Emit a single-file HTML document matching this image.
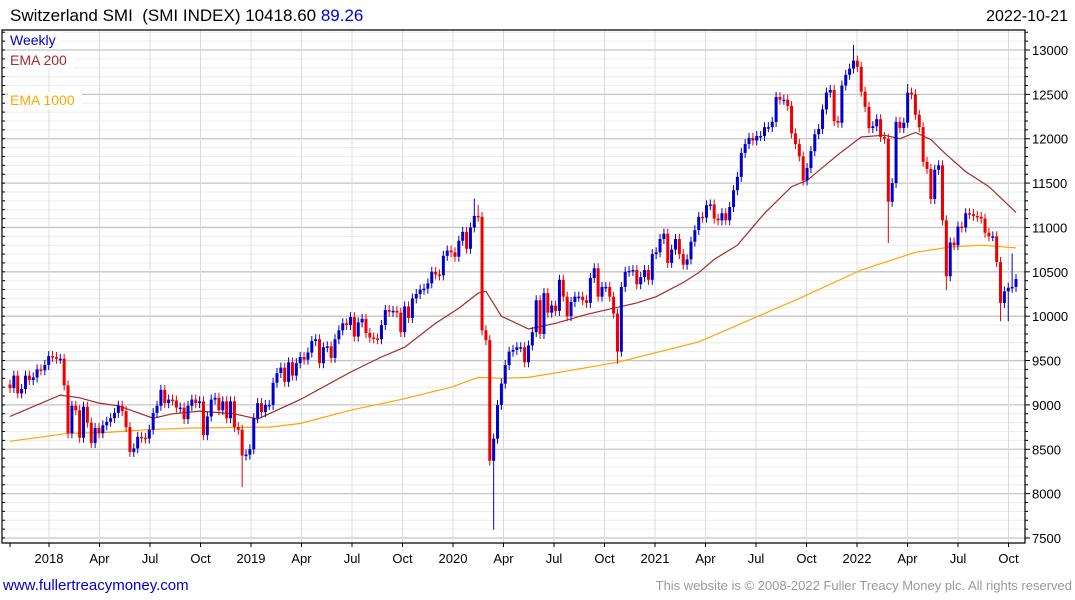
<!DOCTYPE html>
<html><head><meta charset="utf-8"><style>
body{margin:0;background:#fff;}
svg{display:block;font-family:"Liberation Sans",sans-serif;}
</style></head><body>
<svg id="c" width="1075" height="600">
<rect width="1075" height="600" fill="#fff"/>
<g id="grid"></g>
<g id="ema"></g>
<g id="candles"></g>
<g id="axes"></g>
<rect x="8" y="32" width="54" height="16" fill="#fff"/>
<text x="10" y="45" font-size="14" fill="#0000cc">Weekly</text>
<rect x="8" y="52" width="66" height="16" fill="#fff"/>
<text x="10" y="65" font-size="14" fill="#a52a2a">EMA 200</text>
<rect x="8" y="92" width="74" height="16" fill="#fff"/>
<text x="10" y="105" font-size="14" fill="#ffa500">EMA 1000</text>
<text x="10" y="21" font-size="17" fill="#000">Switzerland SMI&#160; (SMI INDEX) 10418.60 <tspan fill="#0000dd">89.26</tspan></text>
<text x="1068" y="21" font-size="16" fill="#000" text-anchor="end">2022-10-21</text>
<text x="3" y="590" font-size="15" fill="#0000cc">www.fullertreacymoney.com</text>
<text x="1072" y="590" font-size="13" fill="#999" text-anchor="end">This website is © 2008-2022 Fuller Treacy Money plc. All rights reserved</text>
</svg>
<script>
const closes = [
9190,9330,9130,9180,9330,9280,9310,9400,9390,9450,
9550,9540,9520,9520,9220,8680,8990,8940,8630,8980,
8800,8570,8740,8680,8770,8810,8850,8910,8990,8930,
8750,8470,8510,8640,8630,8620,8720,8910,8990,9170,
9020,9060,9050,8970,8970,8840,8990,9060,9020,9040,
8660,8870,9060,9080,8940,9040,8850,9040,8750,8720,
8430,8440,8500,8850,9020,8920,9000,9000,9250,9360,
9420,9260,9480,9330,9470,9540,9510,9590,9720,9740,
9470,9650,9660,9530,9740,9840,9920,9900,9990,9770,
9930,9970,9810,9760,9750,9740,9900,10070,10050,10060,
10040,9820,10110,9980,10200,10250,10300,10310,10370,10500,
10470,10460,10680,10740,10720,10670,10850,10950,10760,11000,
11130,11120,9840,9730,8370,8620,9000,9240,9450,9600,
9620,9650,9650,9480,9670,9820,10180,9800,10260,10040,
10120,10060,10410,10220,10000,10160,10220,10220,10180,10150,
10430,10540,10220,10330,10330,10220,10030,9600,10330,10500,
10510,10520,10360,10440,10520,10410,10700,10720,10870,10930,
10600,10750,10870,10700,10580,10640,10840,10970,11120,11110,
11250,11260,11100,11080,11160,11080,11230,11420,11570,11840,
11940,12010,11980,12030,12030,12130,12130,12190,12470,12440,
12440,12370,12060,11940,11800,11530,11670,11860,12050,12110,
12330,12520,12550,12200,12180,12600,12720,12790,12880,12810,
12530,12360,12120,12140,12220,12020,12000,11290,11500,12190,
12120,12180,12520,12500,12270,12130,11740,11660,11320,11650,
11700,11080,10450,10830,10800,11010,11000,11160,11150,11130,
11120,11100,10940,10900,10900,10610,10150,10280,10320,10330,
10419];
const firstOpen = 9230;
const spikeLowIdx = [60,125,157,227,256,258,242];
const spikeLowVal = [8130,7650,9520,10880,10000,10000,10350];
const spikeHighIdx = [120,121,218,232,259];
const spikeHighVal = [11270,11200,13000,12560,10650];
const ema200Week = [0,13,18,23,28,37,42,49,58,64,75,88,96,102,110,116,121,123,127,134,141,149,156,162,167,174,178,182,188,195,202,206,214,220,226,230,234,238,242,247,253,260];
const ema200Val = [8870,9110,9080,9020,8990,8850,8900,8930,8900,8840,9060,9370,9540,9650,9920,10090,10260,10280,10000,9855,9920,10020,10090,10150,10220,10380,10490,10640,10800,11160,11460,11530,11820,12020,12040,12000,12070,11990,11820,11630,11460,11170];
const ema1000Week = [0,15,25,35,47,67,75,88,101,114,121,127,134,145,157,178,204,220,234,243,251,260];
const ema1000Val = [8590,8680,8690,8720,8740,8750,8790,8940,9060,9200,9310,9300,9310,9390,9480,9710,10200,10520,10720,10780,10800,10770];
const monthLabels = ["2018","Apr","Jul","Oct","2019","Apr","Jul","Oct","2020","Apr","Jul","Oct","2021","Apr","Jul","Oct","2022","Apr","Jul","Oct"];
const yTicks = [7500,8000,8500,9000,9500,10000,10500,11000,11500,12000,12500,13000];

const NS="http://www.w3.org/2000/svg";
const L=2,R=1025,T=30,B=543;
const n=closes.length;
function xS(i){return 10+i*(1016-10)/(n-1);}
function yS(v){return 538-(v-7500)*(538-50)/5500;}
function mS(k){return 49+k*50.5;}
function mk(tag,attrs,parent){const e=document.createElementNS(NS,tag);for(const k in attrs)e.setAttribute(k,attrs[k]);parent.appendChild(e);return e;}
const grid=document.getElementById('grid'),axes=document.getElementById('axes'),cg=document.getElementById('candles'),eg=document.getElementById('ema');
for(let v=7400;v<=13200;v+=100){const y=yS(v);if(y<T||y>B)continue;
 const major=v%500===0;
 const ln=mk('line',{x1:L,x2:R,y1:y,y2:y,stroke:major?'#c4c4c4':'#ececec','stroke-width':major?1.3:1},grid);
 
 
 const tk=mk('line',{x1:R,x2:R+(major?5:3),y1:y,y2:y,stroke:'#000'},axes);
 
 
 const tl=mk('line',{x1:L,x2:L+3,y1:y,y2:y,stroke:'#000'},axes);
 
 
}
yTicks.forEach(v=>{const t=mk('text',{x:R+7,y:yS(v)+5,'font-size':13,fill:'#000'},axes);t.textContent=v;
 
 });
const t0=mk('line',{x1:10,x2:10,y1:B,y2:B+4,stroke:'#000'},axes);


monthLabels.forEach((lab,k)=>{const x=mS(k);
 const g=mk('line',{x1:x,x2:x,y1:T,y2:B,stroke:'#dcdcdc'},grid);
 
 
 const tk=mk('line',{x1:x,x2:x,y1:B,y2:B+4,stroke:'#000'},axes);
 
 
 const t=mk('text',{x:x,y:563,'font-size':13,fill:'#000','text-anchor':'middle'},axes);t.textContent=lab;
 
 
});
const fr=mk('path',{d:`M${L},${T} H${R} V${B} H${L} Z`,fill:'none',stroke:'#000','stroke-width':1.2},axes);


function line(ws,vs,col,name){const d=ws.map((w,i)=>(i?'L':'M')+xS(w).toFixed(1)+','+yS(vs[i]).toFixed(1)).join('');
 const p=mk('path',{d:d,fill:'none',stroke:col,'stroke-width':1.2},eg);
 
 }
line(ema200Week,ema200Val,'#a52a2a','ema-200-line');
line(ema1000Week,ema1000Val,'#ffa500','ema-1000-line');
for(let i=0;i<n;i++){
 const o=i?closes[i-1]:firstOpen,c=closes[i];
 const up=c>=o,col=up?'#0000cc':'#ee0000';
 let hi=Math.max(o,c),lo=Math.min(o,c);
 const li=spikeLowIdx.indexOf(i);if(li>=0)lo=Math.min(lo,spikeLowVal[li]);
 const hj=spikeHighIdx.indexOf(i);if(hj>=0)hi=Math.max(hi,spikeHighVal[hj]);
 const x=xS(i);
 const w=mk('line',{x1:x,x2:x,y1:yS(hi)-5,y2:yS(lo)+5,stroke:col,'stroke-width':1},cg);
 
 
 const y1=yS(Math.max(o,c)),y2=yS(Math.min(o,c));
 const b=mk('rect',{x:x-1.5,y:y1,width:3,height:Math.max(1.5,y2-y1),fill:col},cg);
 
 
}
</script>
</body></html>
